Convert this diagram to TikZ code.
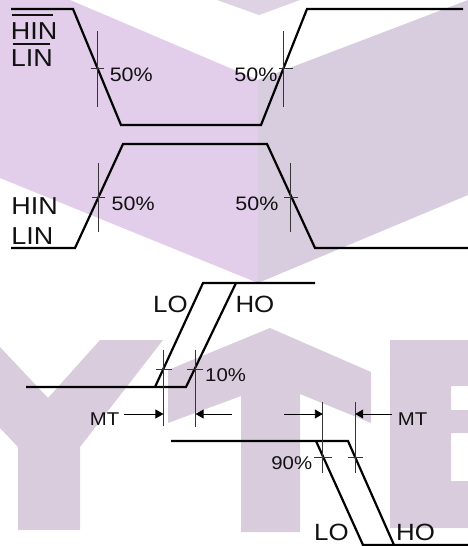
\documentclass[tikz,border=0pt]{standalone}
\usepackage{fontspec}
\setmainfont{Liberation Sans}[FakeStretch=1.1]
\usetikzlibrary{arrows.meta}
\newcommand\fsz[1]{\fontsize{#1}{#1}\selectfont}
\definecolor{wmpurple}{HTML}{E2CDEA}
\definecolor{wmgray}{HTML}{D8CCDF}
\definecolor{wmletter}{HTML}{D9CDDD}
\definecolor{wmtop}{HTML}{DDD3E2}
\definecolor{inkc}{HTML}{111111}
\tikzset{
  wave/.style={draw=black, line width=2.2pt, line join=miter},
  thin/.style={draw=inkc!85, line width=0.9pt},
  dim/.style={draw=black, line width=0.9pt, -{Triangle[length=8pt,width=9pt]}},
  big/.style={inner sep=0pt, text=inkc, font=\fsz{24.5}},
  outl/.style={inner sep=0pt, text=inkc, font=\fsz{23.5}},
  pct/.style={inner sep=0pt, text=inkc, font=\fsz{19.5}},
  small/.style={inner sep=0pt, text=inkc, font=\fsz{18.5}},
  ovl/.style={draw=inkc, line width=1.3pt},
}
\begin{document}
\begin{tikzpicture}[x=1pt,y=-1pt]
\useasboundingbox (0,0) rectangle (468,546);
% watermark
\fill[wmpurple] (0,0) -- (70,0) -- (258,80) -- (258,283) -- (0,178) -- cycle;
\fill[wmgray] (258,80) -- (468,0) -- (468,195) -- (258,283) -- cycle;
\fill[wmtop] (217,0) -- (300,0) -- (259,15) -- cycle;
\fill[wmletter] (0,347) -- (48,398) -- (100,340) -- (163,340) -- (80,447) -- (80,530) -- (18,530) -- (18,447) -- (0,428) -- cycle;
\fill[wmletter] (168,370) -- (270,328) -- (371,372) -- (371,423) -- (300,394) -- (300,532) -- (241,532) -- (241,396) -- (168,423) -- cycle;
\fill[wmletter] (390,340) -- (468,340) -- (468,386) -- (451,386) -- (451,410) -- (468,410) -- (468,433) -- (451,433) -- (451,481) -- (468,481) -- (468,528) -- (390,528) -- cycle;

% ---- top waveform (inverted inputs)
\coordinate (a1) at (11,9);
\coordinate (a2) at (73,9);
\coordinate (a3) at (121,125);
\coordinate (a4) at (261,125);
\coordinate (a5) at (307,9);
\coordinate (a6) at (463,9);
\draw[wave] (a1) -- (a2) -- (a3) -- (a4) -- (a5) -- (a6);
% ---- second waveform
\coordinate (b1) at (11,248);
\coordinate (b2) at (75,248);
\coordinate (b3) at (123,144);
\coordinate (b4) at (267,144);
\coordinate (b5) at (315,248);
\coordinate (b6) at (468,248);
\draw[wave] (b1) -- (b2) -- (b3) -- (b4) -- (b5) -- (b6);

% 50% markers
\draw[thin] (97.4,31) -- (97.4,107);
\draw[thin] (90.5,68) -- (103.5,68);
\draw[thin] (283.8,31) -- (283.8,107);
\draw[thin] (278.5,68) -- (292.5,68);
\draw[thin] (98.6,163) -- (98.6,232);
\draw[thin] (91.5,197) -- (104.5,197);
\draw[thin] (290.8,163) -- (290.8,232);
\draw[thin] (284,197) -- (298,197);

% labels top
\node[big, anchor=base west] (hinb) at (10.7,39.3) {HIN};
\node[big, anchor=base west] (linb) at (10.7,66) {LIN};
\draw[ovl] (11.7,15) -- (53,15);
\draw[ovl] (12.7,44) -- (50,44);
\node[big, anchor=base west] (hin) at (11.3,214) {HIN};
\node[big, anchor=base west] (lin) at (11.3,244) {LIN};
\node[pct, anchor=base west] (p1) at (109.6,81.5) {50\%};
\node[pct, anchor=base east] (p2) at (277.6,81.5) {50\%};
\node[pct, anchor=base west] (p3) at (111.5,210) {50\%};
\node[pct, anchor=base east] (p4) at (278.6,210) {50\%};

% ---- outputs rising
\coordinate (c1) at (26,387);
\coordinate (c2) at (155,387);
\coordinate (c3) at (186,387);
\coordinate (c4) at (203,283);
\coordinate (c5) at (236,283);
\coordinate (c6) at (315,283);
\draw[wave] (c1) -- (c3) -- (c5);
\draw[wave] (c2) -- (c4) -- (c6);
\node[outl, anchor=base west] (lo1) at (153,312.7) {LO};
\node[outl, anchor=base west] (ho1) at (235.3,312.7) {HO};
% 10% markers
\draw[thin] (163.4,350) -- (163.4,426);
\draw[thin] (155.5,369.5) -- (171.5,369.5);
\draw[thin] (195.6,350) -- (195.6,427);
\draw[thin] (187,369.5) -- (203,369.5);
\node[small, anchor=base west] (p10) at (205,381.7) {10\%};
% MT arrows left
\coordinate (m1) at (124,414);
\coordinate (m2) at (163.4,414);
\coordinate (m3) at (232,414);
\coordinate (m4) at (195.6,414);
\draw[dim] (m1) -- (m2);
\draw[dim] (m3) -- (m4);
\node[small, anchor=base west] (mt1) at (89.6,425) {MT};

% ---- outputs falling
\coordinate (d1) at (171,441);
\coordinate (d2) at (316,441);
\coordinate (d3) at (348,441);
\coordinate (d4) at (363,545);
\coordinate (d5) at (394,545);
\coordinate (d6) at (470,545);
\draw[wave] (d1) -- (d3) -- (d5) -- (d6);
\draw[wave] (d2) -- (d4) -- (d5);
\node[outl, anchor=base west] (lo2) at (314,540.5) {LO};
\node[outl, anchor=base west] (ho2) at (396,540.5) {HO};
% 90% markers
\draw[thin] (322.8,402) -- (322.8,473);
\draw[thin] (314,457.7) -- (332,457.7);
\draw[thin] (355.2,402) -- (355.2,473);
\draw[thin] (348,457.7) -- (363,457.7);
\node[small, anchor=base east] (p90) at (312.3,469) {90\%};
% MT arrows right
\coordinate (n1) at (284,414);
\coordinate (n2) at (322.8,414);
\coordinate (n3) at (392,414);
\coordinate (n4) at (355.2,414);
\draw[dim] (n1) -- (n2);
\draw[dim] (n3) -- (n4);
\node[small, anchor=base west] (mt2) at (397.6,425) {MT};
\end{tikzpicture}
\end{document}
